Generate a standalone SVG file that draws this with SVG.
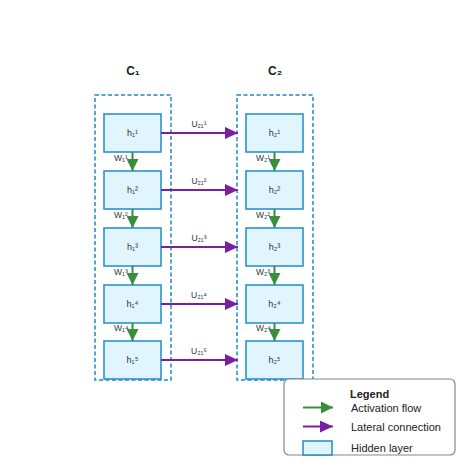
<svg xmlns="http://www.w3.org/2000/svg" width="474" height="474" viewBox="0 0 474 474">
<style>
text{font-family:"Liberation Sans","DejaVu Sans",Arial,sans-serif;fill:#333}
.col{fill:none;stroke:#1e88d0;stroke-width:1.5;stroke-dasharray:4,2.5}
.box{fill:#e1f5fe;stroke:#1e8ccc;stroke-width:1.5}
.hl{font-size:9px;text-anchor:middle}
.lbl{font-size:8.5px}
.ul{font-size:8.5px;text-anchor:middle}
.hd{font-size:12px;font-weight:bold;text-anchor:middle;fill:#222}
.act{stroke:#388e3c;stroke-width:2;fill:none}
.lat{stroke:#7b1fa2;stroke-width:2;fill:none}
.lg{font-size:11px;fill:#222}
</style>
<defs>
<marker id="ga" markerUnits="userSpaceOnUse" markerWidth="12" markerHeight="12" refX="12" refY="6" orient="auto"><path d="M0,0 L12,6 L0,12 Z" fill="#388e3c"/></marker>
<marker id="pa" markerUnits="userSpaceOnUse" markerWidth="13" markerHeight="12" refX="13" refY="6" orient="auto"><path d="M0,0 L13,6 L0,12 Z" fill="#7b1fa2"/></marker>
</defs>
<rect width="474" height="474" fill="#fff"/>
<g id="column1">
<rect class="col" x="95" y="95" width="76" height="285"/>
<text class="hd" x="133" y="75">C₁</text>
</g>
<g id="column2">
<rect class="col" x="237" y="95" width="76" height="285"/>
<text class="hd" x="275" y="75">C₂</text>
</g>
<g id="h1_1"><rect class="box" x="104" y="114" width="57" height="38"/><text class="hl" x="132.5" y="136">h₁¹</text></g>
<g id="h1_2"><rect class="box" x="104" y="171" width="57" height="38"/><text class="hl" x="132.5" y="193">h₁²</text></g>
<g id="h1_3"><rect class="box" x="104" y="228" width="57" height="38"/><text class="hl" x="132.5" y="250">h₁³</text></g>
<g id="h1_4"><rect class="box" x="104" y="285" width="57" height="38"/><text class="hl" x="132.5" y="307">h₁⁴</text></g>
<g id="h1_5"><rect class="box" x="104" y="341" width="57" height="38"/><text class="hl" x="132.5" y="363">h₁⁵</text></g>
<g id="h2_1"><rect class="box" x="246" y="114" width="57" height="38"/><text class="hl" x="274.5" y="136">h₂¹</text></g>
<g id="h2_2"><rect class="box" x="246" y="171" width="57" height="38"/><text class="hl" x="274.5" y="193">h₂²</text></g>
<g id="h2_3"><rect class="box" x="246" y="228" width="57" height="38"/><text class="hl" x="274.5" y="250">h₂³</text></g>
<g id="h2_4"><rect class="box" x="246" y="285" width="57" height="38"/><text class="hl" x="274.5" y="307">h₂⁴</text></g>
<g id="h2_5"><rect class="box" x="246" y="341" width="57" height="38"/><text class="hl" x="274.5" y="363">h₂⁵</text></g>
<g id="connectors">
<line class="act" x1="132.5" y1="152" x2="132.5" y2="171" marker-end="url(#ga)"/>
<line class="act" x1="132.5" y1="209" x2="132.5" y2="228" marker-end="url(#ga)"/>
<line class="act" x1="132.5" y1="266" x2="132.5" y2="285" marker-end="url(#ga)"/>
<line class="act" x1="132.5" y1="323" x2="132.5" y2="341" marker-end="url(#ga)"/>
<line class="act" x1="274.5" y1="152" x2="274.5" y2="171" marker-end="url(#ga)"/>
<line class="act" x1="274.5" y1="209" x2="274.5" y2="228" marker-end="url(#ga)"/>
<line class="act" x1="274.5" y1="266" x2="274.5" y2="285" marker-end="url(#ga)"/>
<line class="act" x1="274.5" y1="323" x2="274.5" y2="341" marker-end="url(#ga)"/>
<text class="lbl" x="114" y="161">W₁¹</text>
<text class="lbl" x="114" y="218">W₁²</text>
<text class="lbl" x="114" y="275">W₁³</text>
<text class="lbl" x="114" y="331">W₁⁴</text>
<text class="lbl" x="256" y="161">W₂¹</text>
<text class="lbl" x="256" y="218">W₂²</text>
<text class="lbl" x="256" y="275">W₂³</text>
<text class="lbl" x="256" y="331">W₂⁴</text>
<line class="lat" x1="161" y1="133" x2="238" y2="133" marker-end="url(#pa)"/>
<line class="lat" x1="161" y1="190" x2="238" y2="190" marker-end="url(#pa)"/>
<line class="lat" x1="161" y1="247" x2="238" y2="247" marker-end="url(#pa)"/>
<line class="lat" x1="161" y1="304" x2="238" y2="304" marker-end="url(#pa)"/>
<line class="lat" x1="161" y1="360" x2="238" y2="360" marker-end="url(#pa)"/>
<text class="ul" x="199" y="127">U₂₁¹</text>
<text class="ul" x="199" y="184">U₂₁²</text>
<text class="ul" x="199" y="241">U₂₁³</text>
<text class="ul" x="199" y="298">U₂₁⁴</text>
<text class="ul" x="199" y="354">U₂₁⁵</text>
</g>
<g id="legend">
<rect x="284" y="379" width="171" height="76" rx="5" fill="#fff" stroke="#888" stroke-width="1.2"/>
<text class="lg" x="350" y="398" font-weight="bold">Legend</text>
<line class="act" x1="303" y1="407.5" x2="333" y2="407.5" marker-end="url(#ga)"/>
<text class="lg" x="351" y="411.5">Activation flow</text>
<line class="lat" x1="303" y1="426.5" x2="333" y2="426.5" marker-end="url(#pa)"/>
<text class="lg" x="351" y="430.5">Lateral connection</text>
<rect class="box" x="303" y="441" width="29" height="14"/>
<text class="lg" x="351" y="451.5">Hidden layer</text>
</g>
</svg>
